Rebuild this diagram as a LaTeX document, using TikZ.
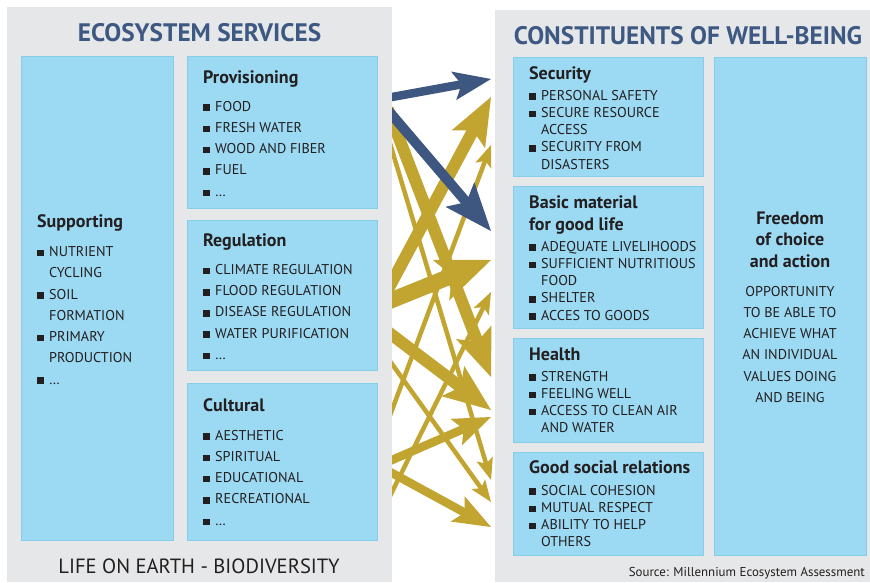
\documentclass[tikz,border=0pt]{standalone}
\usepackage{fontspec}
\setmainfont{PT Sans}
\usepackage{tikz}
\usetikzlibrary{arrows.meta,positioning}

\definecolor{PanelGray}{HTML}{E6E7E8}
\definecolor{TitleBlue}{HTML}{3D5882}
\definecolor{BoxBlue}{HTML}{9CDAF3}
\definecolor{BoxLine}{HTML}{86CDEA}
\definecolor{FlowBlue}{HTML}{3D5780}
\definecolor{FlowGold}{HTML}{C1A530}
\definecolor{TextDark}{HTML}{231F20}

\newcommand{\sqb}{\rule[0.2pt]{6.5pt}{6.5pt}}

\tikzset{
  panel/.style={fill=PanelGray, draw=none},
  box/.style={fill=BoxBlue, draw=BoxLine, line width=0.8pt},
  title/.style={anchor=base, inner sep=0, text=TitleBlue, font=\bfseries\fontsize{25.3}{28}\selectfont},
  head/.style={anchor=base west, inner sep=0, text=TextDark, font=\bfseries\fontsize{18}{20}\selectfont},
  txt/.style={anchor=base west, inner sep=0, text=TextDark, font=\fontsize{14.2}{16}\selectfont},
  itm/.style={txt, execute at begin node={\sqb\hspace{5.5pt}}},
  cont/.style={txt, xshift=12pt},
  ctr/.style={anchor=base, inner sep=0, text=TextDark, font=\fontsize{14.2}{16}\selectfont},
  flow/.style={shorten <=-12pt},
  weak/.style={flow, line width=4.5pt, -{Stealth[length=22pt, width=17pt, inset=5pt, line width=0pt]}},
  medium/.style={flow, line width=8.5pt, -{Stealth[length=38pt, width=29pt, inset=8pt, line width=0pt]}},
  strong/.style={flow, line width=12pt, -{Stealth[length=48pt, width=38pt, inset=10pt, line width=0pt]}},
  heavy/.style={flow, line width=16pt, -{Stealth[length=54pt, width=44pt, inset=12pt, line width=0pt]}},
}

\begin{document}
\begin{tikzpicture}[x=1pt,y=-1pt]
\useasboundingbox (0,0) rectangle (870,582);

% panels
\fill[panel] (7,7) rectangle (392,582);
\fill[panel] (495,10) rectangle (870,582);

\node[title] (estitle) at (199.5,41) {ECOSYSTEM SERVICES};
\node[title] (cwtitle) at (688,44.5) {CONSTITUENTS OF WELL-BEING};

% ecosystem services boxes
\draw[box] (21,56) rectangle (173,540);
\draw[box] (187,56) rectangle (377,208);
\draw[box] (187,220) rectangle (377,370);
\draw[box] (187,383) rectangle (377,540);

\node[head] (suphead) at (37,227) {Supporting};
\foreach \t/\s [count=\i] in {NUTRIENT/itm, CYCLING/cont, SOIL/itm, FORMATION/cont, PRIMARY/itm, PRODUCTION/cont, \dots/itm}
  \node[\s] (sup\i) at (37,{256.5+21.25*(\i-1)}) {\t};

\node[head] (provhead) at (203,83) {Provisioning};
\foreach \t [count=\i] in {FOOD, FRESH WATER, WOOD AND FIBER, FUEL, \dots}
  \node[itm] (prov\i) at (203,{111+21.3*(\i-1)}) {\t};

\node[head] (reghead) at (203,246) {Regulation};
\foreach \t [count=\i] in {CLIMATE REGULATION, FLOOD REGULATION, DISEASE REGULATION, WATER PURIFICATION, \dots}
  \node[itm] (reg\i) at (203,{274.5+21.2*(\i-1)}) {\t};

\node[head] (culthead) at (203,411) {Cultural};
\foreach \t [count=\i] in {AESTHETIC, SPIRITUAL, EDUCATIONAL, RECREATIONAL, \dots}
  \node[itm] (cult\i) at (203,{440+21.3*(\i-1)}) {\t};

\node[anchor=base, inner sep=0, text=TextDark, font=\fontsize{20.6}{22}\selectfont] (life) at (199,573) {LIFE ON EARTH - BIODIVERSITY};

% well-being boxes
\draw[box] (513,57) rectangle (703,176);
\draw[box] (513,186) rectangle (703,328);
\draw[box] (513,338) rectangle (703,442);
\draw[box] (513,452) rectangle (703,555);
\draw[box] (714,57) rectangle (866,555);

\node[head] (sechead) at (529,79) {Security};
\foreach \t/\s [count=\i] in {PERSONAL SAFETY/itm, SECURE RESOURCE/itm, ACCESS/cont, SECURITY FROM/itm, DISASTERS/cont}
  \node[\s] (sec\i) at (529,{100+17.3*(\i-1)}) {\t};

\node[head] (basehead) at (529,208) {Basic material};
\node[head] (basehead2) at (529,230) {for good life};
\foreach \t/\s [count=\i] in {ADEQUATE LIVELIHOODS/itm, SUFFICIENT NUTRITIOUS/itm, FOOD/cont, SHELTER/itm, ACCES TO GOODS/itm}
  \node[\s] (base\i) at (529,{251+17.25*(\i-1)}) {\t};

\node[head] (healthhead) at (529,360) {Health};
\foreach \t/\s [count=\i] in {STRENGTH/itm, FEELING WELL/itm, ACCESS TO CLEAN AIR/itm, AND WATER/cont}
  \node[\s] (health\i) at (529,{381+17.3*(\i-1)}) {\t};

\node[head] (sochead) at (529,473) {Good social relations};
\foreach \t/\s [count=\i] in {SOCIAL COHESION/itm, MUTUAL RESPECT/itm, ABILITY TO HELP/itm, OTHERS/cont}
  \node[\s] (soc\i) at (529,{495+17.3*(\i-1)}) {\t};

\foreach \t [count=\i] in {Freedom, of choice, and action}
  \node[head, anchor=base] (freehead\i) at (790,{224+21.5*(\i-1)}) {\t};
\foreach \t [count=\i] in {OPPORTUNITY, TO BE ABLE TO, ACHIEVE WHAT, AN INDIVIDUAL, VALUES DOING, AND BEING}
  \node[ctr] (free\i) at (790,{296+21.3*(\i-1)}) {\t};

\node[anchor=base east, inner sep=0, text=TextDark, font=\fontsize{12.9}{14}\selectfont] (source) at (865,576) {Source: Millennium Ecosystem Assessment};

% arrow ends
\coordinate (pv1) at (392,97);
\coordinate (pv2) at (392,115);
\coordinate (pv3) at (392,120);
\coordinate (pv4) at (392,150);
\coordinate (rg1) at (392,282);
\coordinate (rg2) at (392,300);
\coordinate (rg3) at (392,335);
\coordinate (rg4) at (392,364);
\coordinate (cu1) at (392,410);
\coordinate (cu2) at (392,492);
\coordinate (cu3) at (392,460);
\coordinate (cu4) at (392,473);
\coordinate (se1) at (491,79);
\coordinate (se2) at (491,97);
\coordinate (se3) at (491,145);
\coordinate (bm1) at (491,231);
\coordinate (bm2) at (491,260);
\coordinate (bm3) at (491,292);
\coordinate (he1) at (491,377);
\coordinate (he2) at (491,410);
\coordinate (he3) at (491,417);
\coordinate (so1) at (491,480);
\coordinate (so2) at (491,502);
\coordinate (so3) at (491,527);

\begin{scope}
\clip (392,0) rectangle (495,582);
\draw[weak, FlowGold] (cu1) -- (se3);
\draw[weak, FlowGold] (cu2) -- (bm3);
\draw[weak, FlowGold] (rg4) -- (so2);
\draw[weak, FlowGold] (pv4) -- (so1);
\draw[medium, FlowGold] (cu3) -- (he3);
\draw[medium, FlowGold] (cu4) -- (so3);
\draw[strong, FlowGold] (rg3) -- (he2);
\draw[strong, FlowGold] (pv3) -- (he1);
\draw[heavy, FlowGold] (rg2) -- (bm2);
\draw[strong, FlowGold] (rg1) -- (se2);
\draw[strong, line width=10pt, FlowBlue] (pv2) -- (bm1);
\draw[medium, FlowBlue] (pv1) -- (se1);
\end{scope}
\end{tikzpicture}
\end{document}
